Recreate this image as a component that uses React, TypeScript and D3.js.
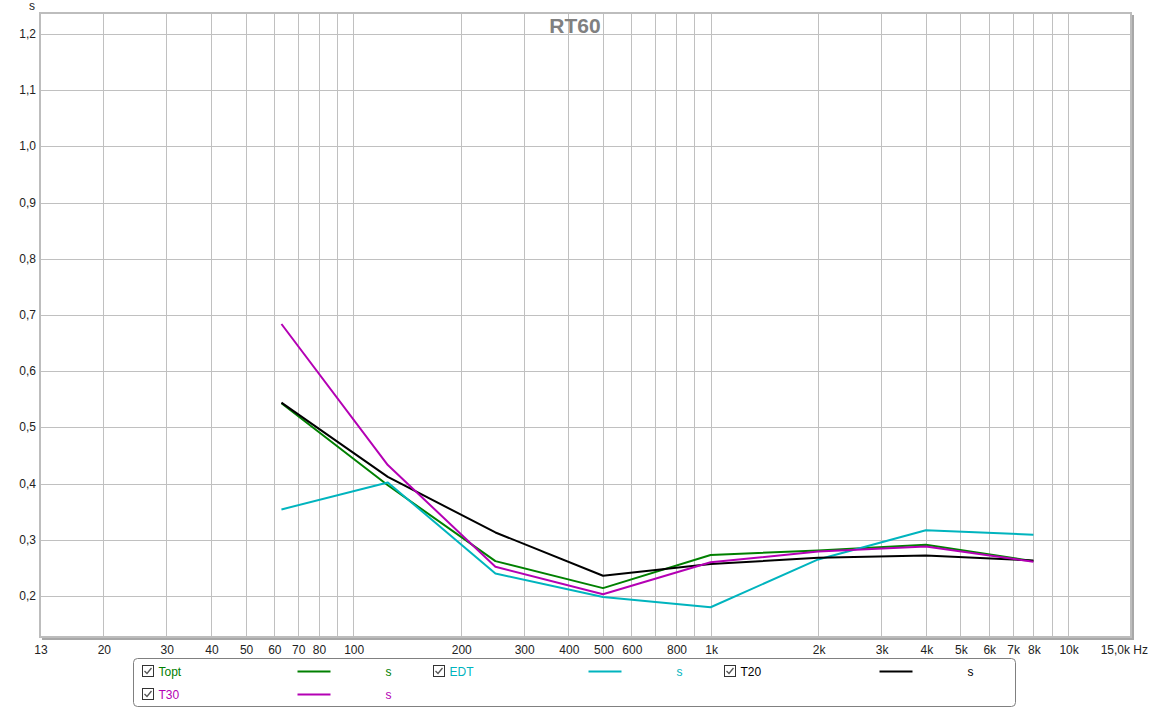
import React from "react";
import * as d3 from "d3";

const freqs = [63, 125, 250, 500, 1000, 2000, 4000, 8000];
const toptValues = [0.543, 0.397, 0.262, 0.214, 0.273, 0.281, 0.291, 0.262];
const edtValues = [0.354, 0.402, 0.240, 0.198, 0.180, 0.265, 0.317, 0.309];
const t20Values = [0.544, 0.412, 0.313, 0.236, 0.257, 0.268, 0.272, 0.263];
const t30Values = [0.684, 0.433, 0.252, 0.203, 0.260, 0.279, 0.288, 0.261];

const seriesNames = ["Topt", "EDT", "T20", "T30"];
const seriesColors = ["#008000", "#00b4be", "#000000", "#b400b4"];
const seriesData = [toptValues, edtValues, t20Values, t30Values];

const yTicks = [0.2, 0.3, 0.4, 0.5, 0.6, 0.7, 0.8, 0.9, 1.0, 1.1, 1.2];
const xGrid = [20, 30, 40, 50, 60, 70, 80, 90, 100, 200, 300, 400, 500, 600, 700, 800, 900, 1000, 2000, 3000, 4000, 5000, 6000, 7000, 8000, 9000, 10000];
const xLabelVals = [13.3, 20, 30, 40, 50, 60, 70, 80, 100, 200, 300, 400, 500, 600, 800, 1000, 2000, 3000, 4000, 5000, 6000, 7000, 8000, 10000];
const xLabelTexts = ["13", "20", "30", "40", "50", "60", "70", "80", "100", "200", "300", "400", "500", "600", "800", "1k", "2k", "3k", "4k", "5k", "6k", "7k", "8k", "10k"];

const L = 40, R = 1131, T = 13, B = 637;
const FONT = "'Liberation Sans', Arial, sans-serif";

export default function App() {
  const x = d3.scaleLog().domain([13.3, 15000]).range([L, R]);
  const y = d3.scaleLinear().domain([0.127, 1.2374]).range([B, T]);
  const line = d3.line<number>().x((_, i) => x(freqs[i])).y((d) => y(d));

  const legendCols = [142.5, 433.5, 724.5];
  const legendRows = [665.5, 688.5];

  return (
    <svg width={1150} height={709} style={{ position: "absolute", left: 0, top: 0, background: "#fff" }}>
      <rect x={0} y={0} width={1150} height={709} fill="#fff" />
      {/* grid */}
      {xGrid.map((f) => (
        <line key={"gx" + f} x1={Math.round(x(f)) + 0.5} x2={Math.round(x(f)) + 0.5} y1={T} y2={B} stroke="#c0c0c0" strokeWidth={1} />
      ))}
      {yTicks.map((v) => (
        <line key={"gy" + v} x1={L} x2={R} y1={Math.round(y(v)) + 0.5} y2={Math.round(y(v)) + 0.5} stroke="#c0c0c0" strokeWidth={1} />
      ))}
      {/* frame */}
      <line x1={R + 2} x2={R + 2} y1={T + 2} y2={B + 3} stroke="#a8a8a8" strokeWidth={2} />
      <line x1={L + 2} x2={R + 3} y1={B + 2} y2={B + 2} stroke="#a8a8a8" strokeWidth={2} />
      <rect x={L} y={T} width={R - L} height={B - T} fill="none" stroke="#bdbdbd" strokeWidth={2} />
      {/* title */}
      <text x={575} y={33} textAnchor="middle" fontFamily={FONT} fontWeight="bold" fontSize={21} fill="#808080">RT60</text>
      {/* y labels */}
      <text x={32} y={10} textAnchor="middle" fontFamily={FONT} fontSize={12} fill="#222">s</text>
      {yTicks.map((v) => (
        <text key={"ty" + v} x={36} y={y(v) + 4} textAnchor="end" fontFamily={FONT} fontSize={12} fill="#222">
          {v.toFixed(1).replace(".", ",")}
        </text>
      ))}
      {/* x labels */}
      {xLabelVals.map((f, i) => (
        <text key={"tx" + f} x={x(f) + 1} y={654} textAnchor="middle" fontFamily={FONT} fontSize={12} fill="#222">
          {xLabelTexts[i]}
        </text>
      ))}
      <text x={1148} y={654} textAnchor="end" fontFamily={FONT} fontSize={12} fill="#222">15,0k Hz</text>
      {/* series */}
      {seriesData.map((d, i) => (
        <path key={"s" + i} d={line(d) || ""} fill="none" stroke={seriesColors[i]} strokeWidth={2} strokeLinejoin="round" />
      ))}
      {/* legend */}
      <rect x={133.5} y={658.5} width={882} height={48} rx={4} fill="#fff" stroke="#808080" strokeWidth={1} />
      {seriesNames.map((name, i) => {
        const cx = legendCols[i % 3];
        const cy = legendRows[Math.floor(i / 3)];
        return (
          <g key={"lg" + name}>
            <rect x={cx} y={cy} width={11} height={11} fill="#fff" stroke="#333" strokeWidth={1} />
            <path d={`M${cx + 2},${cy + 5.5} L${cx + 4.5},${cy + 8} L${cx + 9},${cy + 2.5}`} fill="none" stroke="#555" strokeWidth={1.3} />
            <text x={cx + 16} y={cy + 10} fontFamily={FONT} fontSize={12} fill={seriesColors[i]}>{name}</text>
            <line x1={cx + 155} x2={cx + 188} y1={cy + 6} y2={cy + 6} stroke={seriesColors[i]} strokeWidth={2} />
            <text x={cx + 246} y={cy + 10} fontFamily={FONT} fontSize={12} textAnchor="middle" fill={seriesColors[i]}>s</text>
          </g>
        );
      })}
    </svg>
  );
}
